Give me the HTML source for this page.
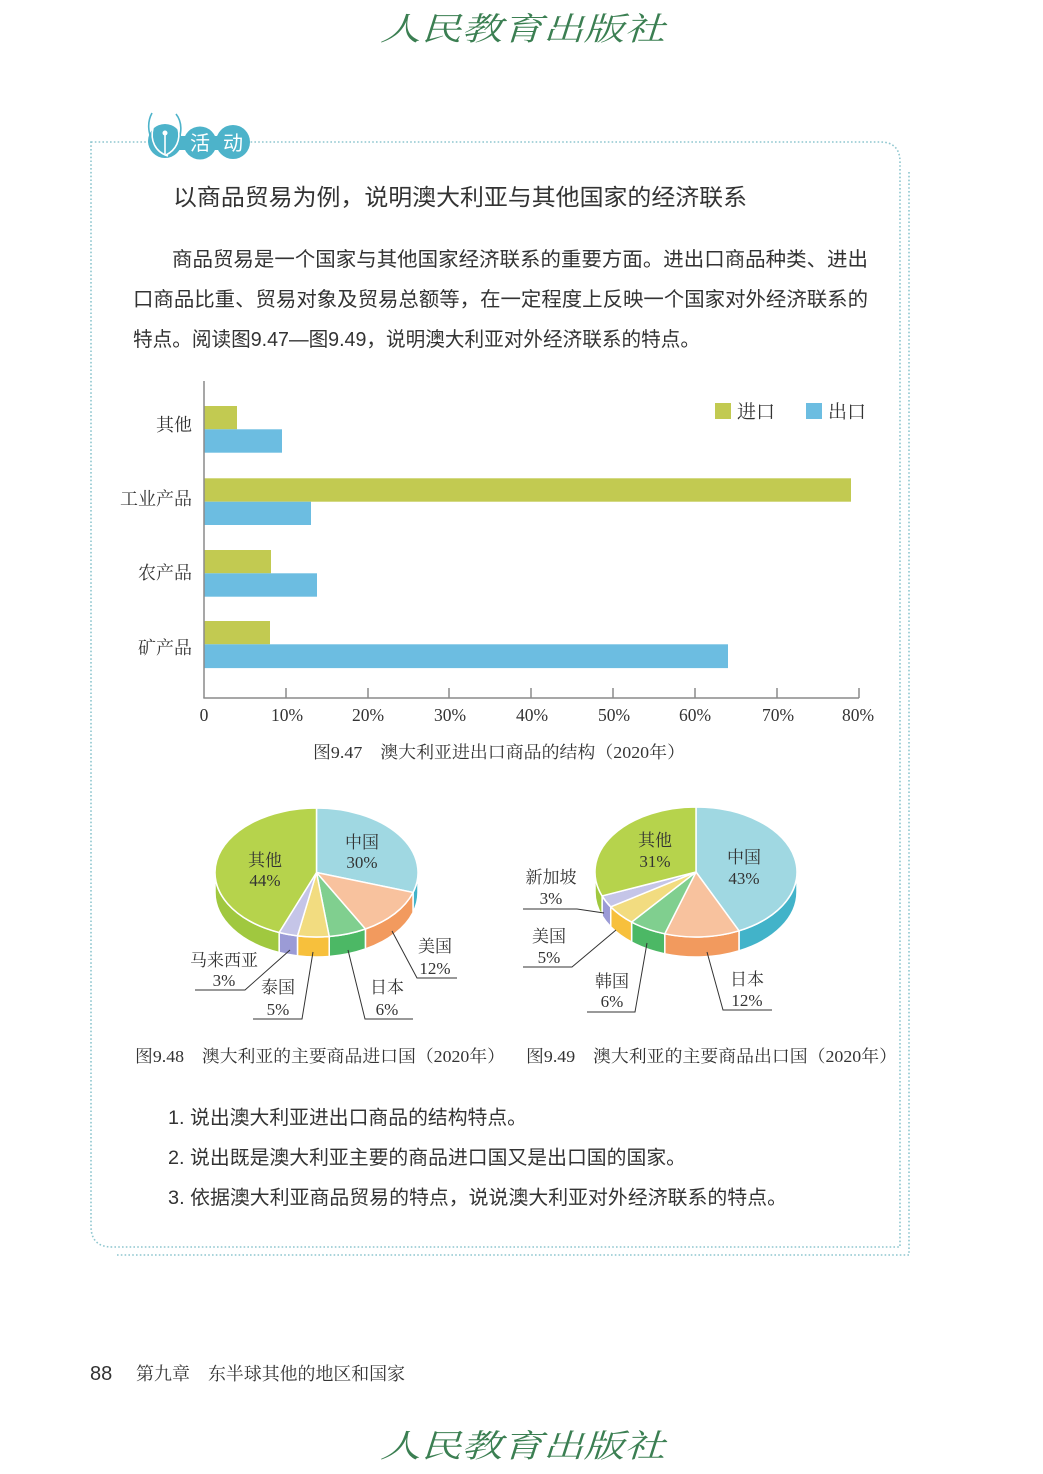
<!DOCTYPE html>
<html><head><meta charset="utf-8"><style>
html,body{margin:0;padding:0;background:#fff;}
svg{display:block;}
.sans{font-family:"Liberation Sans","Noto Sans CJK SC",sans-serif;}
.serif{font-family:"Liberation Serif","Noto Serif CJK SC",serif;}
</style></head><body>
<svg width="1043" height="1474" viewBox="0 0 1043 1474" xmlns="http://www.w3.org/2000/svg">
<rect width="1043" height="1474" fill="#fff"/>

<!-- logo top -->
<text x="380" y="40" class="serif" font-size="32" font-style="italic" fill="#3b7f52" textLength="285" lengthAdjust="spacingAndGlyphs">人民教育出版社</text>

<!-- dotted frame -->
<g fill="none" stroke="#8ec6cf" stroke-width="1.6" stroke-dasharray="1.6 2.2">
<path d="M91,142 L880,142 Q900,142 900,162 L900,1247 L112,1247 Q91,1247 91,1226 Z"/>
<path d="M909,172 L909,1255 L115,1255"/>
</g>

<!-- badge -->
<g>
<circle cx="165" cy="141" r="17" fill="#4db3ca"/>
<circle cx="200" cy="143" r="16.5" fill="#4db3ca"/>
<circle cx="233" cy="142" r="17" fill="#4db3ca"/>
<rect x="172" y="136" width="56" height="14" fill="#4db3ca"/>
<path d="M152,113 C146,124 148,140 160,150" stroke="#4db3ca" stroke-width="1.6" fill="none"/>
<path d="M176,114 C184,124 182,142 170,152" stroke="#4db3ca" stroke-width="1.6" fill="none"/>
<path d="M153,128 C150,140 155,152 168,156" stroke="#fff" stroke-width="1.6" fill="none"/>
<path d="M178,128 C181,140 176,150 166,155" stroke="#fff" stroke-width="1.6" fill="none"/>
<line x1="165" y1="134" x2="165" y2="154" stroke="#fff" stroke-width="1.6"/>
<circle cx="165" cy="133" r="2.5" fill="#fff"/>
<text x="200" y="150" class="sans" font-size="20" fill="#fff" text-anchor="middle">活</text>
<text x="233" y="150" class="sans" font-size="20" fill="#fff" text-anchor="middle">动</text>
</g>

<!-- title -->
<text x="173" y="205" class="sans" font-size="23" fill="#333" textLength="574" lengthAdjust="spacingAndGlyphs">以商品贸易为例，说明澳大利亚与其他国家的经济联系</text>

<!-- paragraph -->
<g class="sans" font-size="20" fill="#333">
<text x="172" y="266" textLength="696" lengthAdjust="spacingAndGlyphs">商品贸易是一个国家与其他国家经济联系的重要方面。进出口商品种类、进出</text>
<text x="133" y="306" textLength="735" lengthAdjust="spacingAndGlyphs">口商品比重、贸易对象及贸易总额等，在一定程度上反映一个国家对外经济联系的</text>
<text x="133" y="346" textLength="567" lengthAdjust="spacingAndGlyphs">特点。阅读图9.47—图9.49，说明澳大利亚对外经济联系的特点。</text>
</g>

<!-- bar chart -->
<g>
<rect x="204" y="406" width="33" height="23.3" fill="#c2ca51"/>
<rect x="204" y="429.3" width="78" height="23.4" fill="#6cbde1"/>
<rect x="204" y="478.3" width="647" height="23.4" fill="#c2ca51"/>
<rect x="204" y="501.7" width="107" height="23.3" fill="#6cbde1"/>
<rect x="204" y="550" width="67" height="23.3" fill="#c2ca51"/>
<rect x="204" y="573.3" width="113" height="23.4" fill="#6cbde1"/>
<rect x="204" y="621" width="66" height="23.3" fill="#c2ca51"/>
<rect x="204" y="644.3" width="524" height="23.8" fill="#6cbde1"/>
<g stroke="#8a8a8a" stroke-width="1.5">
<line x1="204" y1="381" x2="204" y2="698"/>
<line x1="203.3" y1="698" x2="859" y2="698"/>
<line x1="286" y1="688" x2="286" y2="698"/>
<line x1="368" y1="688" x2="368" y2="698"/>
<line x1="449" y1="688" x2="449" y2="698"/>
<line x1="531" y1="688" x2="531" y2="698"/>
<line x1="613" y1="688" x2="613" y2="698"/>
<line x1="695" y1="688" x2="695" y2="698"/>
<line x1="777" y1="688" x2="777" y2="698"/>
<line x1="859" y1="688" x2="859" y2="698"/>
</g>
<g class="serif" font-size="17.5" fill="#333" text-anchor="middle">
<text x="204" y="721">0</text>
<text x="287" y="721">10%</text>
<text x="368" y="721">20%</text>
<text x="450" y="721">30%</text>
<text x="532" y="721">40%</text>
<text x="614" y="721">50%</text>
<text x="695" y="721">60%</text>
<text x="778" y="721">70%</text>
<text x="858" y="721">80%</text>
</g>
<g class="serif" font-size="18" fill="#333" text-anchor="end">
<text x="192" y="431">其他</text>
<text x="192" y="505">工业产品</text>
<text x="192" y="579">农产品</text>
<text x="192" y="654">矿产品</text>
</g>
<rect x="715" y="403" width="16" height="16" fill="#c2ca51"/>
<text x="737" y="418" class="serif" font-size="19" fill="#333">进口</text>
<rect x="806" y="403" width="16" height="16" fill="#6cbde1"/>
<text x="828" y="418" class="serif" font-size="19" fill="#333">出口</text>
<text x="313" y="758" class="serif" font-size="17" fill="#333" textLength="372" lengthAdjust="spacingAndGlyphs">图9.47　澳大利亚进出口商品的结构（2020年）</text>
</g>

<!-- left pie -->
<g stroke="#fff" stroke-width="1.5" stroke-linejoin="round">
<path d="M418,872.5 A101.5,64.5 0 0 1 413.04,892.43 L413.04,912.43 A101.5,64.5 0 0 0 418,892.5 Z" fill="#42b3c9"/>
<path d="M413.04,892.43 A101.5,64.5 0 0 1 365.40,929.02 L365.40,949.02 A101.5,64.5 0 0 0 413.04,912.43 Z" fill="#f29a5e"/>
<path d="M365.40,929.02 A101.5,64.5 0 0 1 329.22,936.49 L329.22,956.49 A101.5,64.5 0 0 0 365.40,949.02 Z" fill="#4cb865"/>
<path d="M329.22,936.49 A101.5,64.5 0 0 1 297.48,935.86 L297.48,955.86 A101.5,64.5 0 0 0 329.22,956.49 Z" fill="#f7c03c"/>
<path d="M297.48,935.86 A101.5,64.5 0 0 1 279.14,932.47 L279.14,952.47 A101.5,64.5 0 0 0 297.48,955.86 Z" fill="#9b9bd6"/>
<path d="M279.14,932.47 A101.5,64.5 0 0 1 215,872.5 L215,892.5 A101.5,64.5 0 0 0 279.14,952.47 Z" fill="#a0c83f"/>
<path d="M316.5,872.5 L316.5,808 A101.5,64.5 0 0 1 413.04,892.43 Z" fill="#a0d8e2"/>
<path d="M316.5,872.5 L413.04,892.43 A101.5,64.5 0 0 1 365.40,929.02 Z" fill="#f8c29e"/>
<path d="M316.5,872.5 L365.40,929.02 A101.5,64.5 0 0 1 329.22,936.49 Z" fill="#80cf8f"/>
<path d="M316.5,872.5 L329.22,936.49 A101.5,64.5 0 0 1 297.48,935.86 Z" fill="#f2dc80"/>
<path d="M316.5,872.5 L297.48,935.86 A101.5,64.5 0 0 1 279.14,932.47 Z" fill="#c5c5e8"/>
<path d="M316.5,872.5 L279.14,932.47 A101.5,64.5 0 0 1 316.5,808 Z" fill="#b6d34c"/>
</g>
<g stroke="#333" stroke-width="1" fill="none">
<polyline points="392,931 417,978 457,978"/>
<polyline points="348,950 365,1019 413,1019"/>
<polyline points="313,952 302,1019 253,1019"/>
<polyline points="290,950 245,990 195,990"/>
</g>
<g class="serif" font-size="17" fill="#333" text-anchor="middle">
<text x="362" y="848">中国</text><text x="362" y="868">30%</text>
<text x="265" y="866">其他</text><text x="265" y="886">44%</text>
<text x="435" y="952">美国</text><text x="435" y="974">12%</text>
<text x="387" y="993">日本</text><text x="387" y="1015">6%</text>
<text x="278" y="993">泰国</text><text x="278" y="1015">5%</text>
<text x="224" y="966">马来西亚</text><text x="224" y="986">3%</text>
</g>

<!-- right pie -->
<g stroke="#fff" stroke-width="1.5" stroke-linejoin="round">
<path d="M797,872 A101,65 0 0 1 739.01,930.81 L739.01,950.81 A101,65 0 0 0 797,892 Z" fill="#42b3c9"/>
<path d="M739.01,930.81 A101,65 0 0 1 664.79,933.82 L664.79,953.82 A101,65 0 0 0 739.01,950.81 Z" fill="#f29a5e"/>
<path d="M664.79,933.82 A101,65 0 0 1 631.62,922.08 L631.62,942.08 A101,65 0 0 0 664.79,953.82 Z" fill="#4cb865"/>
<path d="M631.62,922.08 A101,65 0 0 1 610.73,906.83 L610.73,926.83 A101,65 0 0 0 631.62,942.08 Z" fill="#f7c03c"/>
<path d="M610.73,906.83 A101,65 0 0 1 602.09,895.93 L602.09,915.93 A101,65 0 0 0 610.73,926.83 Z" fill="#9b9bd6"/>
<path d="M602.09,895.93 A101,65 0 0 1 595,872 L595,892 A101,65 0 0 0 602.09,915.93 Z" fill="#a0c83f"/>
<path d="M696,872 L696,807 A101,65 0 0 1 739.01,930.81 Z" fill="#a0d8e2"/>
<path d="M696,872 L739.01,930.81 A101,65 0 0 1 664.79,933.82 Z" fill="#f8c29e"/>
<path d="M696,872 L664.79,933.82 A101,65 0 0 1 631.62,922.08 Z" fill="#80cf8f"/>
<path d="M696,872 L631.62,922.08 A101,65 0 0 1 610.73,906.83 Z" fill="#f2dc80"/>
<path d="M696,872 L610.73,906.83 A101,65 0 0 1 602.09,895.93 Z" fill="#c5c5e8"/>
<path d="M696,872 L602.09,895.93 A101,65 0 0 1 696,807 Z" fill="#b6d34c"/>
</g>
<g stroke="#333" stroke-width="1" fill="none">
<polyline points="604,913 577,909 523,909"/>
<polyline points="616,930 572,967 523,967"/>
<polyline points="647,943 635,1012 587,1012"/>
<polyline points="707,952 723,1010 772,1010"/>
</g>
<g class="serif" font-size="17" fill="#333" text-anchor="middle">
<text x="655" y="846">其他</text><text x="655" y="867">31%</text>
<text x="744" y="863">中国</text><text x="744" y="884">43%</text>
<text x="551" y="883">新加坡</text><text x="551" y="904">3%</text>
<text x="549" y="942">美国</text><text x="549" y="963">5%</text>
<text x="612" y="987">韩国</text><text x="612" y="1007">6%</text>
<text x="747" y="985">日本</text><text x="747" y="1006">12%</text>
</g>

<!-- pie captions -->
<text x="135" y="1062" class="serif" font-size="17" fill="#333" textLength="370" lengthAdjust="spacingAndGlyphs">图9.48　澳大利亚的主要商品进口国（2020年）</text>
<text x="526" y="1062" class="serif" font-size="17" fill="#333" textLength="371" lengthAdjust="spacingAndGlyphs">图9.49　澳大利亚的主要商品出口国（2020年）</text>

<!-- questions -->
<g class="sans" font-size="19.5" fill="#333">
<text x="168" y="1124" textLength="359" lengthAdjust="spacingAndGlyphs">1. 说出澳大利亚进出口商品的结构特点。</text>
<text x="168" y="1164" textLength="518" lengthAdjust="spacingAndGlyphs">2. 说出既是澳大利亚主要的商品进口国又是出口国的国家。</text>
<text x="168" y="1204" textLength="619" lengthAdjust="spacingAndGlyphs">3. 依据澳大利亚商品贸易的特点，说说澳大利亚对外经济联系的特点。</text>
</g>

<!-- footer -->
<text x="90" y="1380" class="sans" font-size="20" fill="#333">88</text>
<text x="136" y="1380" class="serif" font-size="18" fill="#333" textLength="54" lengthAdjust="spacingAndGlyphs">第九章</text>
<text x="208" y="1380" class="serif" font-size="18" fill="#333" textLength="197" lengthAdjust="spacingAndGlyphs">东半球其他的地区和国家</text>

<!-- logo bottom -->
<text x="380" y="1457" class="serif" font-size="32" font-style="italic" fill="#3b7f52" textLength="285" lengthAdjust="spacingAndGlyphs">人民教育出版社</text>
</svg>
</body></html>
